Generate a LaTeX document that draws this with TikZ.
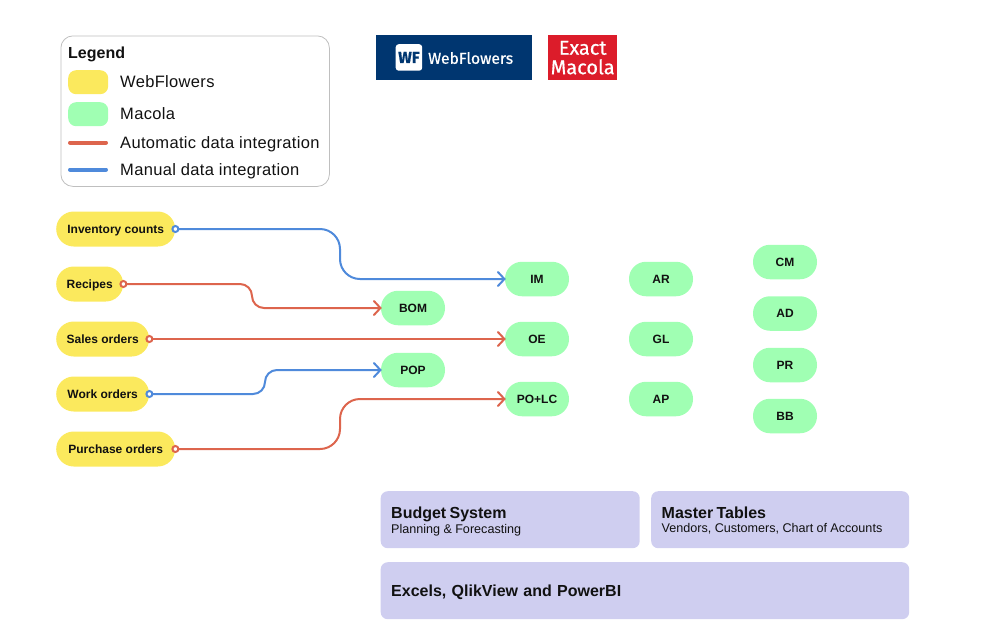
\documentclass[tikz,border=0pt]{standalone}
\usepackage{fontspec}
\setmainfont{Liberation Sans}
\newfontfamily\legendfont[LetterSpace=2]{Liberation Sans}
\newfontfamily\logofont[FakeBold=0.6]{Fira Sans}
\usetikzlibrary{arrows.meta}
\definecolor{flowyellow}{HTML}{FBE95D}
\definecolor{macgreen}{HTML}{A0FFB3}
\definecolor{autored}{HTML}{DD654D}
\definecolor{manblue}{HTML}{4F8ADB}
\definecolor{boxlilac}{HTML}{CFCEF0}
\definecolor{wfnavy}{HTML}{003670}
\definecolor{macred}{HTML}{DC1C2A}
\definecolor{inkblack}{HTML}{111111}
\tikzset{
  flowpill/.style={anchor=west, fill=flowyellow, rounded corners=17.5, minimum height=35, inner sep=0, text height=8.6, text depth=0, text=inkblack, font=\fontsize{12}{14}\selectfont\bfseries},
  macpill/.style={fill=macgreen, rounded corners=17, minimum width=64, minimum height=34.5, inner sep=0, text height=8.6, text depth=0, text=inkblack, font=\fontsize{12}{14}\selectfont\bfseries},
  infobox/.style={anchor=north west, fill=boxlilac, rounded corners=7, minimum height=57, inner xsep=10.5, inner ysep=0, text depth=0, align=left, text=inkblack},
  legendtext/.style={anchor=west, inner sep=0, text height=12, text depth=0, text=inkblack, font=\fontsize{16.5}{18}\legendfont},
  swatch/.style={anchor=north west, rounded corners=8, minimum width=40, minimum height=24, inner sep=0},
  autolink/.style={draw=autored, line width=2, rounded corners=#1, {Circle[open,fill=white,length=8,width=8]}-{Straight Barb[length=6.5,width=14,line cap=round]}, shorten <=-4, shorten >=-1},
  autolink/.default=12,
  manlink/.style={draw=manblue, line width=2, rounded corners=#1, {Circle[open,fill=white,length=8,width=8]}-{Straight Barb[length=6.5,width=14,line cap=round]}, shorten <=-4, shorten >=-1},
  manlink/.default=12,
}
\begin{document}
\begin{tikzpicture}[x=1pt, y=-1pt]
\useasboundingbox (0,0) rectangle (986,633);

\node[draw=black!25, line width=.8, rounded corners=12, anchor=north west, minimum width=268.5, minimum height=150.5, inner sep=0] (legend) at (60.5,35.5) {};
\node[legendtext, font=\fontsize{16}{18}\selectfont\bfseries] (legendtitle) at (68,52) {Legend};
\node[swatch, fill=flowyellow] (swyellow) at (68,70) {};
\node[legendtext] (txyellow) at (120,81) {WebFlowers};
\node[swatch, fill=macgreen] (swgreen) at (68,102) {};
\node[legendtext] (txgreen) at (120,113) {Macola};
\coordinate (autoA) at (70,142.5);
\coordinate (autoB) at (106,142.5);
\draw[autored, line width=4, line cap=round] (autoA) -- (autoB);
\node[legendtext] (txauto) at (120,142) {Automatic data integration};
\coordinate (manA) at (70,169.5);
\coordinate (manB) at (106,169.5);
\draw[manblue, line width=4, line cap=round] (manA) -- (manB);
\node[legendtext] (txman) at (120,169) {Manual data integration};

\node[anchor=north west, fill=wfnavy, minimum width=156, minimum height=45, inner sep=0] (wflogo) at (376,35) {};
\node[anchor=north west, fill=white, rounded corners=3, minimum width=26.5, minimum height=26.5, inner sep=0, text=wfnavy, font=\fontsize{16}{16}\logofont\bfseries] (wfmark) at (395.5,44) {WF};
\node[anchor=west, inner sep=0, text=white, font=\fontsize{15.7}{16}\logofont] (wfname) at (428,58) {WebFlowers};
\node[anchor=north west, fill=macred, minimum width=69, minimum height=45, inner sep=0, align=center, text=white, font=\fontsize{20}{19.5}\logofont] (maclogo) at (548,35) {Exact\\Macola};

\node[flowpill, minimum width=119] (inventory) at (56,229) {Inventory counts};
\node[flowpill, minimum width=67] (recipes) at (56,284) {Recipes};
\node[flowpill, minimum width=93] (sales) at (56,339) {Sales orders};
\node[flowpill, minimum width=93] (work) at (56,394) {Work orders};
\node[flowpill, minimum width=119] (purchase) at (56,449) {Purchase orders};

\node[macpill] (bom) at (413,308) {BOM};
\node[macpill] (pop) at (413,370) {POP};
\node[macpill] (im) at (537,279) {IM};
\node[macpill] (oe) at (537,339) {OE};
\node[macpill] (polc) at (537,399) {PO+LC};
\node[macpill] (ar) at (661,279) {AR};
\node[macpill] (gl) at (661,339) {GL};
\node[macpill] (ap) at (661,399) {AP};
\node[macpill] (cm) at (785,262) {CM};
\node[macpill] (ad) at (785,313.5) {AD};
\node[macpill] (pr) at (785,365) {PR};
\node[macpill] (bb) at (785,416) {BB};

\coordinate (longbend) at (340,0);
\coordinate (recbend) at (252,0);
\coordinate (workbend) at (265,0);
\draw[manlink=20] (inventory.east) -| (longbend |- im.west) -- (im.west);
\draw[autolink] (recipes.east) -| (recbend |- bom.west) -- (bom.west);
\draw[autolink] (sales.east) -- (oe.west);
\draw[manlink] (work.east) -| (workbend |- pop.west) -- (pop.west);
\draw[autolink=20] (purchase.east) -| (longbend |- polc.west) -- (polc.west);

\node[infobox, text width=238, text depth=15] (budget) at (380.5,491) {{\fontsize{16}{18}\selectfont\bfseries Budget System}\\[2pt]{\fontsize{12.6}{14}\selectfont Planning \& Forecasting}};
\node[infobox, text width=237, text depth=15] (master) at (651,491) {{\fontsize{16}{18}\selectfont\bfseries Master Tables}\\[2pt]{\fontsize{12.6}{14}\selectfont Vendors, Customers, Chart of Accounts}};
\node[infobox, text width=507.5, font=\fontsize{16}{18}\selectfont\bfseries] (reports) at (380.5,562) {Excels, QlikView and PowerBI};
\end{tikzpicture}
\end{document}
